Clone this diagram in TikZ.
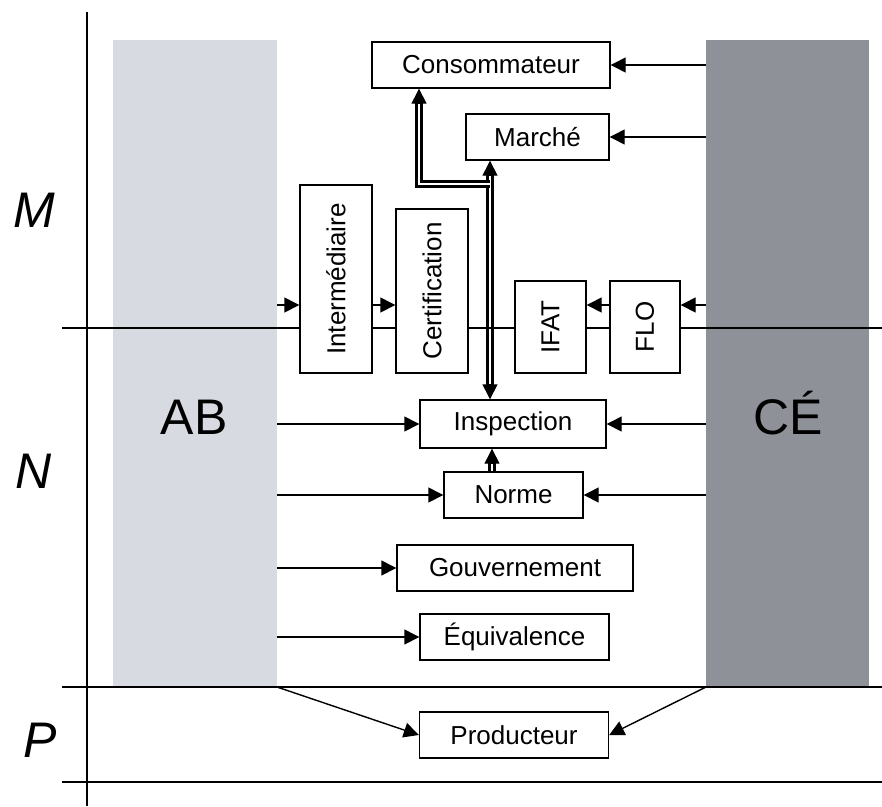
\documentclass[tikz,border=0pt]{standalone}
\usepackage{fontspec}
\setmainfont{Liberation Sans}
\usetikzlibrary{arrows.meta,calc}
\pgfdeclarelayer{back}
\pgfdeclarelayer{rules}
\pgfsetlayers{back,rules,main}
\definecolor{bandlight}{HTML}{D7DAE0}
\definecolor{banddark}{HTML}{8E9197}
\tikzset{
  box/.style={draw=black, line width=1.4pt, fill=white, inner sep=0pt,
    font=\fontsize{26}{30}\selectfont},
  big/.style={inner sep=0pt, anchor=base, font=\fontsize{50}{56}\selectfont},
  rule/.style={line width=1.4pt},
  tip/.style={-{Triangle[length=15pt,width=15pt]}},
  arr/.style={line width=1.4pt, tip},
  dbl/.style={line width=3.2pt, double=white, double distance=1.6pt}
}
\begin{document}
\begin{tikzpicture}[x=1pt,y=-1pt]
\useasboundingbox (0,0) rectangle (882,806);

% shaded side bands
\begin{pgfonlayer}{back}
  \fill[bandlight] (113,40) rectangle (277,687);
  \fill[banddark] (706,40) rectangle (869,687);
\end{pgfonlayer}

% level letters and band names
\node[big] (lm) at (34,227) {\itshape M};
\node[big] (ln) at (34,488) {\itshape N};
\node[big] (lp) at (40,757) {\itshape P};
\node[big] (ab) at (194,434) {AB};
\node[big] (ce) at (788,434) {CÉ};

% actors
\node[box, minimum width=238pt, minimum height=46pt] (conso) at (491,65) {Consommateur};
\node[box, minimum width=143pt, minimum height=46pt] (marche) at (537.5,137) {Marché};
\node[box, minimum width=72pt, minimum height=188pt] (inter) at (336,279) {\rotatebox{90}{Intermédiaire}};
\node[box, minimum width=72pt, minimum height=164pt] (certif) at (432,291) {\rotatebox{90}{Certification}};
\node[box, minimum width=71pt, minimum height=92pt] (ifat) at (550.5,327) {\rotatebox{90}{IFAT}};
\node[box, minimum width=70pt, minimum height=92pt] (flo) at (645,327) {\rotatebox{90}{FLO}};
\node[box, minimum width=186pt, minimum height=48pt] (insp) at (513,424) {Inspection};
\node[box, minimum width=139pt, minimum height=46pt] (norme) at (513.5,495) {Norme};
\node[box, minimum width=236pt, minimum height=46pt] (gouv) at (515,568) {Gouvernement};
\node[box, minimum width=189pt, minimum height=46pt] (equiv) at (514.5,637) {Équivalence};
\node[box, minimum width=189pt, minimum height=46pt] (prod) at (514,735) {Producteur};

% band edges used as connector origins
\coordinate (abtop) at (277,40);
\coordinate (abfoot) at (277,687);
\coordinate (cetop) at (706,40);
\coordinate (cefoot) at (706,687);
\coordinate (vx) at (490,0);
\coordinate (bx) at (419,0);
\coordinate (nx) at (492,0);
\coordinate (split) at (490,184);
\coordinate (mk) at (marche.south -| vx);
\coordinate (ik) at (insp.north -| vx);
\coordinate (ck) at (conso.south -| bx);
\coordinate (nb) at (norme.north -| nx);
\coordinate (ib) at (insp.south -| nx);

% double connectors between market, consumer, inspection and standard
\begin{pgfonlayer}{rules}
  \draw[dbl, shorten <=14pt, shorten >=14pt] (mk) -- (ik);
  \draw[dbl, shorten >=14pt] (split) -- (split -| bx) -- (ck);
  \draw[dbl, shorten >=14pt] (nb) -- (ib);
  % axes and level separators
  \draw[rule] (87,12) -- (87,806);
  \draw[rule] (62,328) -- (882,328);
  \draw[rule] (62,687) -- (882,687);
  \draw[rule] (62,782) -- (882,782);
\end{pgfonlayer}

% heads of the double connectors
\draw[arr] ($(mk)+(0,15)$) -- (mk);
\draw[arr] ($(ik)+(0,-15)$) -- (ik);
\draw[arr] ($(ck)+(0,15)$) -- (ck);
\draw[arr] ($(ib)+(0,15)$) -- (ib);

% flows from the CE band
\draw[arr] (cetop |- conso.east) -- (conso.east);
\draw[arr] (cetop |- marche.east) -- (marche.east);
\draw[arr] (706,305) -- (flo.east |- 0,305);
\draw[arr] (flo.west |- 0,305) -- (ifat.east |- 0,305);
\draw[arr] (cetop |- insp.east) -- (insp.east);
\draw[arr] (cetop |- norme.east) -- (norme.east);

% flows from the AB band
\draw[arr] (277,305) -- (inter.west |- 0,305);
\draw[arr] (inter.east |- 0,305) -- (certif.west |- 0,305);
\draw[arr] (abtop |- insp.west) -- (insp.west);
\draw[arr] (abtop |- norme.west) -- (norme.west);
\draw[arr] (abtop |- gouv.west) -- (gouv.west);
\draw[arr] (abtop |- equiv.west) -- (equiv.west);

% both bands reach the producer
\draw[arr] (abfoot) -- (prod.west);
\draw[arr] (cefoot) -- (prod.east);
\end{tikzpicture}
\end{document}
